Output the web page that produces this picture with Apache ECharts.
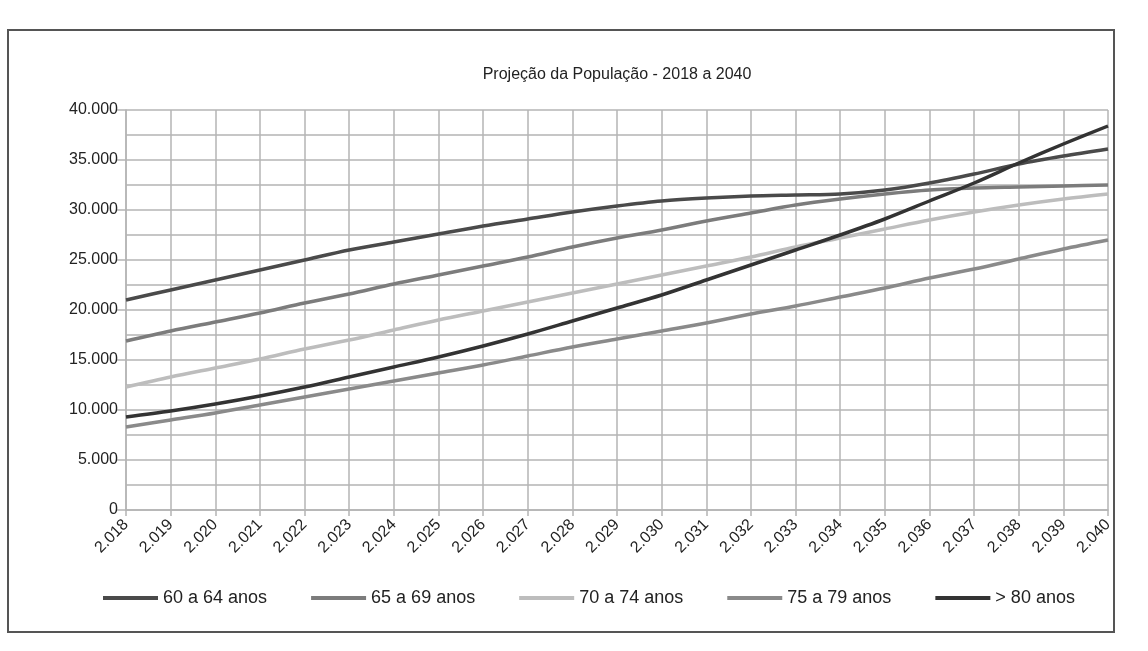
<!DOCTYPE html>
<html>
<head>
<meta charset="utf-8">
<script src="https://cdn.jsdelivr.net/npm/echarts@6/dist/echarts.min.js"></script>
<style>
html,body{margin:0;padding:0;background:#fff;}
#chart{width:1148px;height:651px;}
</style>
</head>
<body>
<div id="chart"></div>
<script>
const categories = ['2.018','2.019','2.020','2.021','2.022','2.023','2.024','2.025','2.026','2.027','2.028','2.029','2.030','2.031','2.032','2.033','2.034','2.035','2.036','2.037','2.038','2.039','2.040'];
const seriesNames = ['60 a 64 anos','65 a 69 anos','70 a 74 anos','75 a 79 anos','> 80 anos'];
const s60_64 = [21000,22000,23000,24000,25000,26000,26800,27600,28400,29100,29800,30400,30900,31200,31400,31500,31600,32000,32700,33600,34600,35400,36100];
const s65_69 = [16900,17900,18800,19700,20700,21600,22600,23500,24400,25300,26300,27200,28000,28900,29700,30500,31100,31600,32000,32200,32300,32400,32500];
const s70_74 = [12300,13300,14200,15100,16100,17000,18000,19000,19900,20800,21700,22600,23500,24400,25300,26300,27200,28100,29000,29800,30500,31100,31600];
const s75_79 = [8300,9000,9700,10500,11300,12100,12900,13700,14500,15400,16300,17100,17900,18700,19600,20400,21300,22200,23200,24100,25100,26100,27000];
const s80 = [9300,9900,10600,11400,12300,13300,14300,15300,16400,17600,18900,20200,21500,23000,24500,26000,27500,29100,30900,32700,34700,36600,38400];
const seriesColors = ['#4a4a4a','#7c7c7c','#bdbdbd','#8a8a8a','#333333'];
const yTicks = {min:0, max:40000, interval:5000};

const allData = [s60_64, s65_69, s70_74, s75_79, s80];
const chart = echarts.init(document.getElementById('chart'));
const gridColor = '#b4b4b4';
chart.setOption({
  animation:false,
  backgroundColor:'#ffffff',
  title:{
    text:'Projeção da População - 2018 a 2040',
    left:612, top:62, textAlign:'center',
    textStyle:{fontFamily:'Liberation Sans', fontSize:16, fontWeight:'normal', color:'#222'}
  },
  graphic:[{
    type:'rect', shape:{x:8, y:30, width:1106, height:602},
    style:{fill:'none', stroke:'#555', lineWidth:2}, silent:true
  }],
  grid:{left:126, right:40, top:110, bottom:141},
  legend:{
    data:seriesNames, left:98, top:584, icon:'rect', itemWidth:55, itemHeight:4, itemGap:44,
    textStyle:{fontFamily:'Liberation Sans', fontSize:18, color:'#222'}
  },
  xAxis:{
    type:'category', data:categories, boundaryGap:false,
    axisLine:{lineStyle:{color:gridColor, width:1.5}},
    axisTick:{show:true, length:6, lineStyle:{color:gridColor, width:1.5}},
    axisLabel:{rotate:45, fontFamily:'Liberation Sans', fontSize:16, color:'#222', margin:12, interval:0},
    splitLine:{show:true, interval:0, lineStyle:{color:gridColor, width:1.5}}
  },
  yAxis:{
    type:'value', min:yTicks.min, max:yTicks.max, interval:yTicks.interval,
    axisLine:{show:true, lineStyle:{color:gridColor, width:1.5}},
    axisTick:{show:true, length:9, lineStyle:{color:gridColor, width:1.5}},
    axisLabel:{fontFamily:'Liberation Sans', fontSize:16, color:'#222', margin:8,
      formatter:v => v===0 ? '0' : (v/1000)+'.000'},
    splitLine:{show:true, lineStyle:{color:gridColor, width:1.5}},
    minorTick:{show:false, splitNumber:2},
    minorSplitLine:{show:true, lineStyle:{color:gridColor, width:1.5}}
  },
  series: seriesNames.map((n,i)=>({
    name:n, type:'line', data:allData[i], smooth:0.3, symbol:'none',
    lineStyle:{width:3.5, color:seriesColors[i]}, itemStyle:{color:seriesColors[i]}
  }))
});
</script>
</body>
</html>
